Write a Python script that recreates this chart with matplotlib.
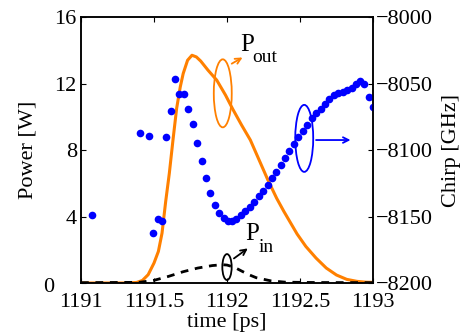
"""Output / input pulse power with chirp of the output pulse"""
import matplotlib
matplotlib.use("Agg")
import matplotlib.pyplot as plt
from matplotlib.patches import Ellipse
from matplotlib.transforms import ScaledTranslation

# output pulse power [W]
t_out = [1191.0, 1191.30, 1191.38, 1191.42, 1191.46, 1191.50, 1191.53, 1191.555,
         1191.58, 1191.605, 1191.63, 1191.655, 1191.68, 1191.70, 1191.73, 1191.76,
         1191.79, 1191.82, 1191.87, 1191.93, 1191.99, 1192.04, 1192.10, 1192.16,
         1192.22, 1192.28, 1192.34, 1192.39, 1192.44, 1192.48, 1192.54, 1192.61,
         1192.68, 1192.75, 1192.82, 1192.89, 1192.95, 1193.0]
p_out = [0.0, 0.0, 0.03, 0.15, 0.5, 1.2, 1.9, 3.0,
         4.9, 6.6, 8.6, 10.5, 11.8, 12.6, 13.4, 13.7,
         13.6, 13.35, 12.8, 12.2, 11.3, 10.45, 9.5, 8.6,
         7.4, 6.2, 5.1, 4.3, 3.55, 2.95, 2.2, 1.5,
         0.9, 0.48, 0.22, 0.1, 0.05, 0.04]

# input pulse power [W]
t_in = [1191.0, 1191.4, 1191.5, 1191.6, 1191.7, 1191.8, 1191.9, 1191.97, 1192.0,
        1192.05, 1192.1, 1192.15, 1192.2, 1192.3, 1192.4, 1192.6, 1193.0]
p_in = [0.02, 0.04, 0.16, 0.4, 0.68, 0.9, 1.05, 1.1, 1.08,
        0.95, 0.72, 0.5, 0.32, 0.13, 0.05, 0.03, 0.02]

# chirp of output pulse [GHz]
t_chirp = [1191.073, 1191.404, 1191.466, 1191.495, 1191.525, 1191.555, 1191.584,
           1191.614, 1191.646, 1191.673, 1191.708, 1191.735, 1191.767, 1191.795,
           1191.827, 1191.856, 1191.886, 1191.916, 1191.947, 1191.977, 1192.005,
           1192.032, 1192.062, 1192.094, 1192.125, 1192.155, 1192.187, 1192.219,
           1192.249, 1192.279, 1192.308, 1192.338, 1192.368, 1192.397, 1192.427,
           1192.457, 1192.488, 1192.521, 1192.550, 1192.582, 1192.612, 1192.642,
           1192.671, 1192.701, 1192.733, 1192.762, 1192.795, 1192.824, 1192.854,
           1192.882, 1192.909, 1192.938, 1192.971, 1193.0]
chirp = [-8149.1, -8087.4, -8089.5, -8162.2, -8152.1, -8153.4, -8090.5,
         -8070.5, -8046.8, -8057.9, -8057.9, -8069.4, -8080.7, -8095.0,
         -8108.5, -8121.3, -8132.3, -8141.4, -8147.1, -8151.4, -8153.2,
         -8153.2, -8151.7, -8149.1, -8146.1, -8142.6, -8138.9, -8134.8,
         -8130.8, -8126.3, -8121.3, -8116.3, -8111.3, -8105.8, -8100.8,
         -8095.7, -8090.0, -8085.5, -8081.0, -8076.2, -8072.4, -8069.4,
         -8065.4, -8061.9, -8058.9, -8057.4, -8056.4, -8054.9, -8053.2,
         -8050.4, -8047.9, -8050.4, -8059.9, -8067.4]

x_ticks = [1191, 1191.5, 1192, 1192.5, 1193]
x_labels = ['1191', '1191.5', '1192', '1192.5', '1193']
p_ticks = [0, 4, 8, 12, 16]
p_labels = ['0', '4', '8', '12', '16']
c_ticks = [-8200, -8150, -8100, -8050, -8000]
c_labels = ['\u22128200', '\u22128150', '\u22128100', '\u22128050', '\u22128000']

ORANGE = '#ff8000'
BLUE = '#0000ff'

plt.rcParams['font.family'] = ['Liberation Serif', 'DejaVu Serif']

fig = plt.figure(figsize=(4.61, 3.35), dpi=100)
ax = fig.add_axes([0.1757, 0.1552, 0.6334, 0.794])
ax2 = ax.twinx()

ax.plot(t_out, p_out, color=ORANGE, lw=2.2, solid_joinstyle='round')
ax.plot(t_in, p_in, color='black', lw=2.0, dashes=(2.8, 2.4))
ax2.plot(t_chirp, chirp, 'o', color=BLUE, ms=5.5, mec='none')

ax.set_xlim(1191, 1193)
ax.set_ylim(0, 16)
ax2.set_ylim(-8200, -8000)
ax.set_xticks(x_ticks)
ax.set_xticklabels(x_labels)
ax.set_yticks(p_ticks)
ax.set_yticklabels(p_labels)
ax2.set_yticks(c_ticks)
ax2.set_yticklabels(c_labels)

for a in (ax, ax2):
    a.tick_params(direction='in', length=3.5, width=0.8, labelsize=16)
    for s in a.spines.values():
        s.set_linewidth(1.1)
ax.tick_params(axis='x', top=True, pad=7)
ax.tick_params(axis='y', pad=3)
ax2.tick_params(axis='y', pad=2)

ax.set_xlabel('time [ps]', fontsize=16)
ax.set_ylabel('Power [W]', fontsize=16)
ax2.set_ylabel('Chirp [GHz]', fontsize=16)
ax.xaxis.set_label_coords(0.5, -0.112)
ax.yaxis.set_label_coords(-0.15, 0.5)
ax2.yaxis.set_label_coords(1.235, 0.5)

# the "0" label sits off to the left in the original
fig.canvas.draw()
zero = ax.yaxis.get_majorticklabels()[0]
zero.set_transform(zero.get_transform() + ScaledTranslation(-0.23, -0.02, fig.dpi_scale_trans))

# annotations: ellipses, arrows and labels
ax.add_patch(Ellipse((1191.971, 11.41), 0.123, 4.09, fill=False, ec=ORANGE, lw=1.3))
ax.annotate('', xy=(1192.123, 13.65), xytext=(1192.016, 13.11),
            arrowprops=dict(arrowstyle='->', color=ORANGE, lw=1.3))
ax.text(1192.14, 14.3, 'P', fontsize=18, ha='center', va='center')
ax.text(1192.26, 13.55, 'out', fontsize=14, ha='center', va='center')

ax.add_patch(Ellipse((1192.529, 8.70), 0.123, 4.03, fill=False, ec=BLUE, lw=1.3))
ax.annotate('', xy=(1192.865, 8.6), xytext=(1192.591, 8.6),
            arrowprops=dict(arrowstyle='->', color=BLUE, lw=1.3))

ax.add_patch(Ellipse((1192.0, 0.96), 0.064, 1.56, fill=False, ec='black', lw=1.3))
ax.annotate('', xy=(1192.158, 2.18), xytext=(1192.032, 1.38),
            arrowprops=dict(arrowstyle='->', color='black', lw=1.3))
ax.text(1192.17, 2.95, 'P', fontsize=18, ha='center', va='center')
ax.text(1192.27, 2.15, 'in', fontsize=14, ha='center', va='center')

fig.savefig('out.png', dpi=100)
